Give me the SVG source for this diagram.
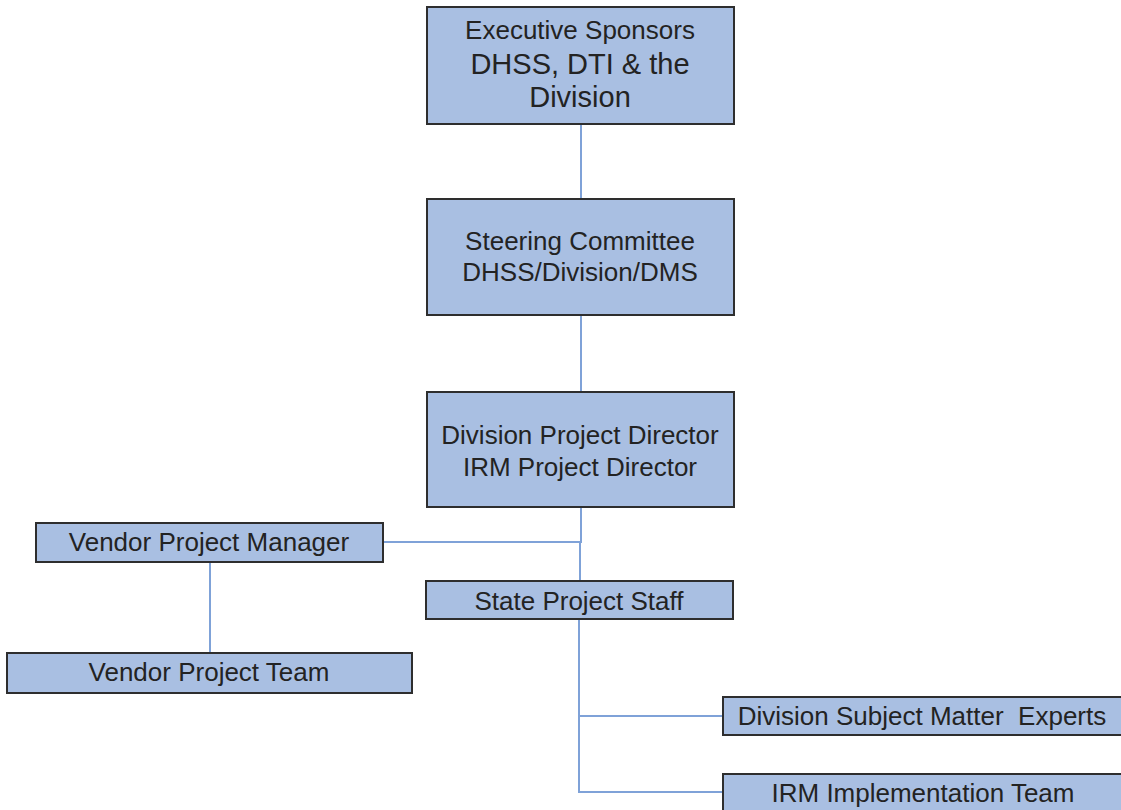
<svg xmlns="http://www.w3.org/2000/svg" width="1121" height="810" viewBox="0 0 1121 810">
<style>
.box{fill:#a9bfe2;stroke:#2e2e2e;stroke-width:2}
.t{font-family:"Liberation Sans",Arial,sans-serif;font-size:26px;fill:#232323;text-anchor:middle}
.big{font-size:29px}
.conn{stroke:#7fa2d8;stroke-width:2;fill:none}
</style>
<rect width="1121" height="810" fill="#ffffff"/>
<g id="connectors">
<path class="conn" d="M581,124 V199"/>
<path class="conn" d="M581,315 V392"/>
<path class="conn" d="M581,507 V542 H383"/>
<path class="conn" d="M580,542 V581"/>
<path class="conn" d="M210,562 V653"/>
<path class="conn" d="M579,619 V792 H723"/>
<path class="conn" d="M579,716 H723"/>
</g>
<g id="executive-sponsors">
<rect class="box" x="427" y="7" width="307" height="117"/>
<text class="t" x="580" y="39">Executive Sponsors</text>
<text class="t big" x="580" y="74">DHSS, DTI &amp; the</text>
<text class="t big" x="580" y="107">Division</text>
</g>
<g id="steering-committee">
<rect class="box" x="427" y="199" width="307" height="116"/>
<text class="t" x="580" y="250">Steering Committee</text>
<text class="t" x="580" y="281">DHSS/Division/DMS</text>
</g>
<g id="project-directors">
<rect class="box" x="427" y="392" width="307" height="115"/>
<text class="t" x="580" y="444">Division Project Director</text>
<text class="t" x="580" y="476">IRM Project Director</text>
</g>
<g id="vendor-project-manager">
<rect class="box" x="36" y="523" width="347" height="39"/>
<text class="t" x="209" y="551">Vendor Project Manager</text>
</g>
<g id="vendor-project-team">
<rect class="box" x="7" y="653" width="405" height="40"/>
<text class="t" x="209" y="681">Vendor Project Team</text>
</g>
<g id="state-project-staff">
<rect class="box" x="426" y="581" width="307" height="38"/>
<text class="t" x="579" y="610">State Project Staff</text>
</g>
<g id="division-sme">
<rect class="box" x="723" y="697" width="402" height="38"/>
<text class="t" x="922" y="725" xml:space="preserve">Division Subject Matter  Experts</text>
</g>
<g id="irm-implementation-team">
<rect class="box" x="723" y="774" width="402" height="45"/>
<text class="t" x="923" y="802">IRM Implementation Team</text>
</g>
</svg>
